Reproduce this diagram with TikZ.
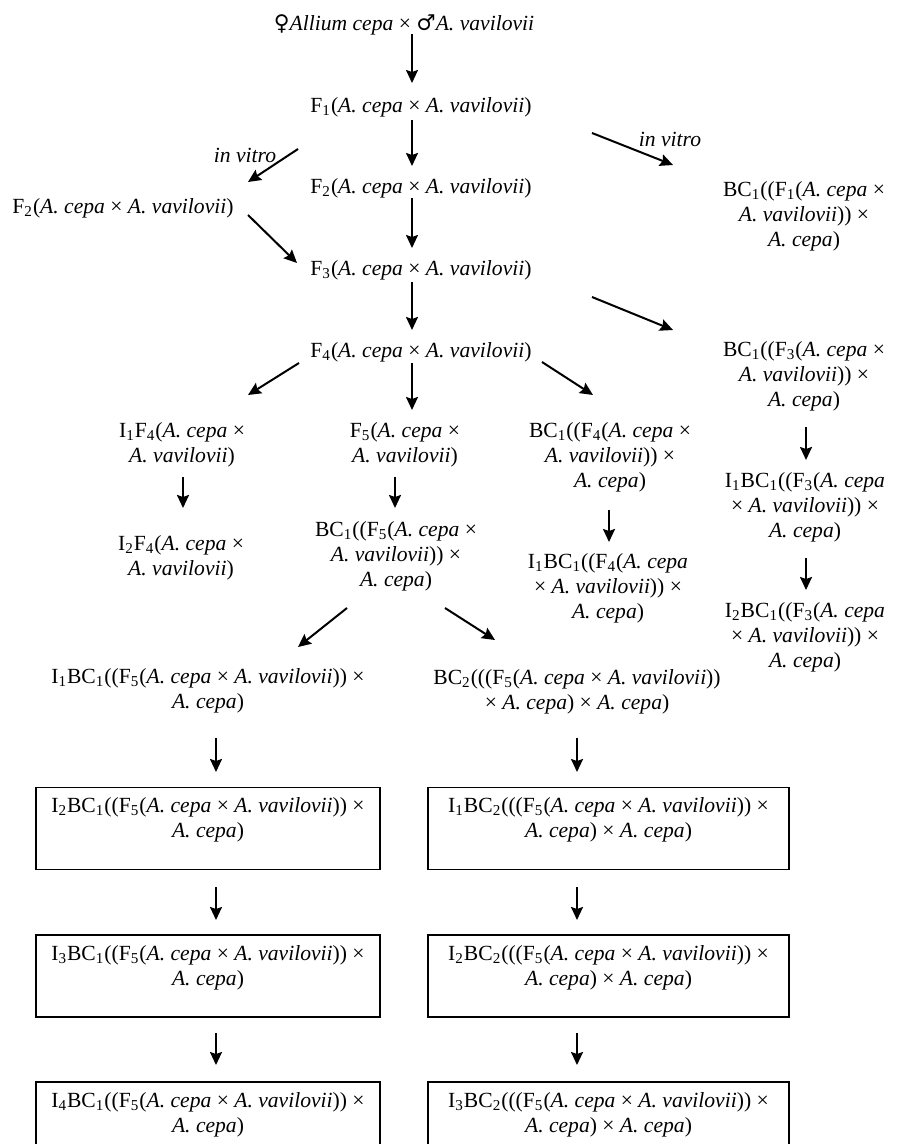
\documentclass[tikz,border=0pt]{standalone}
\usepackage{fontspec}
\setmainfont{Liberation Serif}
\newfontfamily\signfont{DejaVu Serif}
\usetikzlibrary{arrows.meta}

\newcommand{\Acepa}{\textit{A. cepa}}
\newcommand{\Avav}{\textit{A. vavilovii}}
\newcommand{\sbs}[1]{\textsubscript{#1}}

\begin{document}
\begin{tikzpicture}[x=0.5pt, y=-0.5pt,
	lbl/.style={font=\fontsize{10.8}{12.5}\selectfont, align=center, inner sep=0pt},
	boxnode/.style={lbl, draw, line width=0.9pt, minimum height=41pt, text depth=11pt},
	arr/.style={-{Stealth[length=6.5pt, width=6pt, inset=1pt]}, line width=1pt}]
\useasboundingbox (0,0) rectangle (900,1144);

%main line
	\node[lbl] (cross) at (404,25) {{\signfont ♀}\textit{Allium cepa} × {\signfont ♂}\textit{A. vavilovii}};
	\node[lbl] (F1) at (421,107) {F\sbs{1}(\Acepa{} × \Avav)};
	\node[lbl] (F2) at (421,188) {F\sbs{2}(\Acepa{} × \Avav)};
	\node[lbl] (F3) at (421,270) {F\sbs{3}(\Acepa{} × \Avav)};
	\node[lbl] (F4) at (421,352) {F\sbs{4}(\Acepa{} × \Avav)};
	\draw[arr] ([shift={(8,9)}]cross.center) -- ([shift={(-9,-24)}]F1.center);
	\draw[arr] ([shift={(-9,13)}]F1.center) -- ([shift={(-9,-22)}]F2.center);
	\draw[arr] ([shift={(-9,10)}]F2.center) -- ([shift={(-9,-22)}]F3.center);
	\draw[arr] ([shift={(-9,12)}]F3.center) -- ([shift={(-9,-22)}]F4.center);

%in vitro branches
	\node[lbl] (F2l) at (123,208) {F\sbs{2}(\Acepa{} × \Avav)};
	\node[lbl] (vitroL) at (245,155) {\textit{in vitro}};
	\draw[arr] ([shift={(-123,42)}]F1.center) -- ([shift={(125,-26)}]F2l.center);
	\draw[arr] ([shift={(125,7)}]F2l.center) -- ([shift={(-124,-7)}]F3.center);
	\node[lbl] (vitroR) at (670,139) {\textit{in vitro}};
	\node[lbl] (BCF1) at (804,216) {BC\sbs{1}((F\sbs{1}(\Acepa{} ×\\ \Avav)) ×\\ \Acepa)};
	\draw[arr] ([shift={(171,26)}]F1.center) -- ([shift={(-131,-51)}]BCF1.center);

%right column
	\node[lbl] (BCF3) at (804,376) {BC\sbs{1}((F\sbs{3}(\Acepa{} ×\\ \Avav)) ×\\ \Acepa)};
	\node[lbl] (IBCF3) at (805,507) {I\sbs{1}BC\sbs{1}((F\sbs{3}(\Acepa\\ × \Avav)) ×\\ \Acepa)};
	\node[lbl] (IIBCF3) at (805,637) {I\sbs{2}BC\sbs{1}((F\sbs{3}(\Acepa\\ × \Avav)) ×\\ \Acepa)};
	\draw[arr] ([shift={(171,27)}]F3.center) -- ([shift={(-131,-46)}]BCF3.center);
	\draw[arr] ([shift={(2,51)}]BCF3.center) -- ([shift={(1,-47)}]IBCF3.center);
	\draw[arr] ([shift={(1,51)}]IBCF3.center) -- ([shift={(1,-47)}]IIBCF3.center);

%F4 branches
	\node[lbl] (IF4) at (182,445) {I\sbs{1}F\sbs{4}(\Acepa{} ×\\ \Avav)};
	\node[lbl] (F5) at (405,445) {F\sbs{5}(\Acepa{} ×\\ \Avav)};
	\node[lbl] (BCF4) at (610,457) {BC\sbs{1}((F\sbs{4}(\Acepa{} ×\\ \Avav)) ×\\ \Acepa)};
	\draw[arr] ([shift={(-122,11)}]F4.center) -- ([shift={(66,-50)}]IF4.center);
	\draw[arr] ([shift={(-9,11)}]F4.center) -- ([shift={(7,-35)}]F5.center);
	\draw[arr] ([shift={(121,10)}]F4.center) -- ([shift={(-17,-62)}]BCF4.center);
	\node[lbl] (IIF4) at (181,558) {I\sbs{2}F\sbs{4}(\Acepa{} ×\\ \Avav)};
	\node[lbl] (BCF5) at (396,556) {BC\sbs{1}((F\sbs{5}(\Acepa{} ×\\ \Avav)) ×\\ \Acepa)};
	\node[lbl] (IBCF4) at (608,588) {I\sbs{1}BC\sbs{1}((F\sbs{4}(\Acepa\\ × \Avav)) ×\\ \Acepa)};
	\draw[arr] ([shift={(1,32)}]IF4.center) -- ([shift={(2,-50)}]IIF4.center);
	\draw[arr] ([shift={(-10,32)}]F5.center) -- ([shift={(-1,-48)}]BCF5.center);
	\draw[arr] ([shift={(-1,53)}]BCF4.center) -- ([shift={(1,-46)}]IBCF4.center);

%BC1 F5 branches
	\node[lbl] (IBCF5) at (208,691) {I\sbs{1}BC\sbs{1}((F\sbs{5}(\Acepa{} × \Avav)) ×\\ \Acepa)};
	\node[lbl] (BCCF5) at (577,692) {BC\sbs{2}(((F\sbs{5}(\Acepa{} × \Avav))\\ × \Acepa) × \Acepa)};
	\draw[arr] ([shift={(-49,52)}]BCF5.center) -- ([shift={(90,-44)}]IBCF5.center);
	\draw[arr] ([shift={(49,52)}]BCF5.center) -- ([shift={(-82,-52)}]BCCF5.center);

%boxes
	\node[boxnode, minimum width=172pt] (L1) at (208,828.5) {I\sbs{2}BC\sbs{1}((F\sbs{5}(\Acepa{} × \Avav)) ×\\ \Acepa)};
	\node[boxnode, minimum width=172pt] (L2) at (208,976) {I\sbs{3}BC\sbs{1}((F\sbs{5}(\Acepa{} × \Avav)) ×\\ \Acepa)};
	\node[boxnode, minimum width=172pt] (L3) at (208,1123) {I\sbs{4}BC\sbs{1}((F\sbs{5}(\Acepa{} × \Avav)) ×\\ \Acepa)};
	\node[boxnode, minimum width=180.5pt] (R1) at (608.5,828.5) {I\sbs{1}BC\sbs{2}(((F\sbs{5}(\Acepa{} × \Avav)) ×\\ \Acepa) × \Acepa)};
	\node[boxnode, minimum width=180.5pt] (R2) at (608.5,976) {I\sbs{2}BC\sbs{2}(((F\sbs{5}(\Acepa{} × \Avav)) ×\\ \Acepa) × \Acepa)};
	\node[boxnode, minimum width=180.5pt] (R3) at (608.5,1123) {I\sbs{3}BC\sbs{2}(((F\sbs{5}(\Acepa{} × \Avav)) ×\\ \Acepa) × \Acepa)};
	\draw[arr] ([shift={(8,47)}]IBCF5.center) -- ([shift={(8,-56.5)}]L1.center);
	\draw[arr] ([shift={(8,58.5)}]L1.center) -- ([shift={(8,-56)}]L2.center);
	\draw[arr] ([shift={(8,57)}]L2.center) -- ([shift={(8,-58)}]L3.center);
	\draw[arr] ([shift={(0,46)}]BCCF5.center) -- ([shift={(-31.5,-56.5)}]R1.center);
	\draw[arr] ([shift={(-31.5,58.5)}]R1.center) -- ([shift={(-31.5,-56)}]R2.center);
	\draw[arr] ([shift={(-31.5,57)}]R2.center) -- ([shift={(-31.5,-58)}]R3.center);
\end{tikzpicture}
\end{document}
